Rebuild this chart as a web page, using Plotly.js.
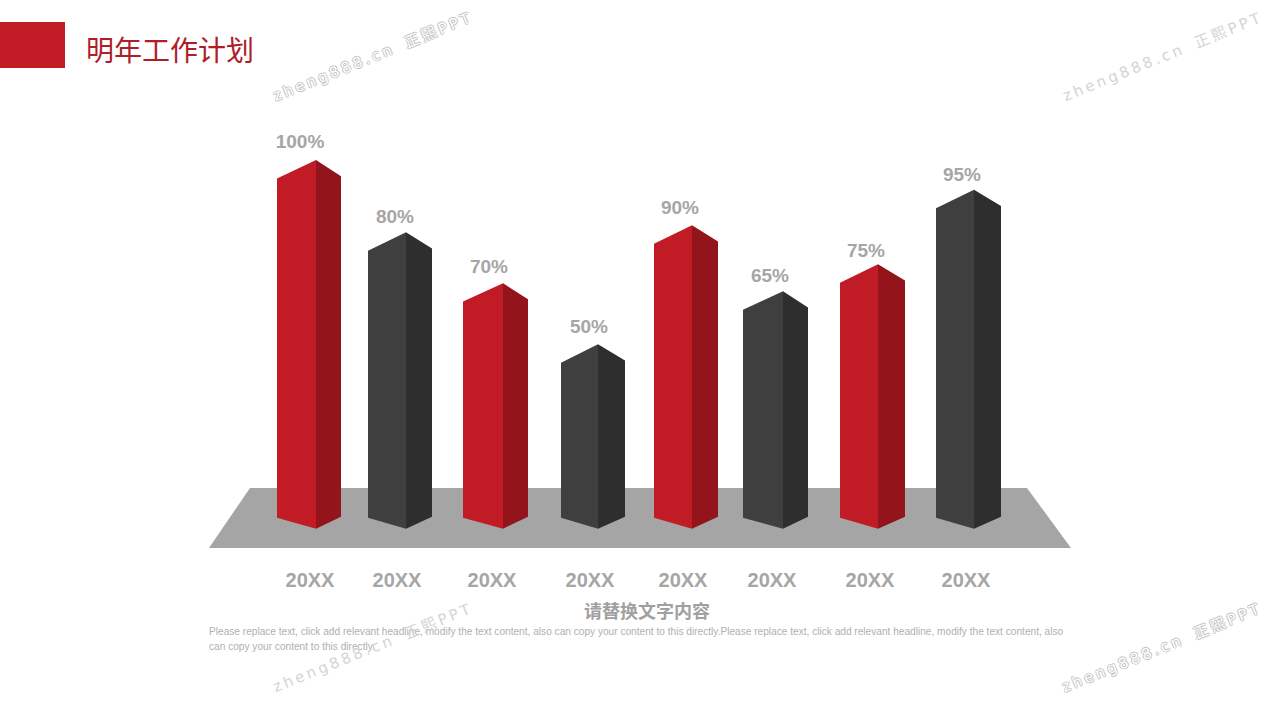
<!DOCTYPE html>
<html>
<head>
<meta charset="utf-8">
<script src="https://cdn.plot.ly/plotly-3.0.1.min.js"></script>
<style>html,body{margin:0;padding:0;background:#fff}#chart{width:1280px;height:720px}</style>
</head>
<body>
<div id="chart"></div>
<script>
// ---- data ----
const years = ['20XX','20XX','20XX','20XX','20XX','20XX','20XX','20XX'];
const valueLabels = ['100%','80%','70%','50%','90%','65%','75%','95%'];
const ridgeHeights = [100, 80.4, 66.6, 50, 82.3, 64.4, 71.7, 91.9];
const barTone = ['red','dark','red','dark','red','dark','red','dark'];

// ---- placement (x-axis units equal screen pixels) ----
const barLeft  = [277, 368, 463, 561, 654, 743, 840, 936];
const barRidge = [316, 406, 503, 598, 692, 783, 878, 974];
const barRight = [341, 432, 528, 625, 718, 808, 905, 1001];
const valueLabelX = [300, 395, 489, 589, 680, 770, 866, 962];
const valueLabelLift = [17, 14, 15, 16, 16, 14, 12, 14];
const yearLabelX = [310, 397, 492, 590, 683, 772, 870, 966];

const W = 1280, H = 720, axisPx = 565, unitPx = 3.687, zeroPx = 528.7;
const shoulderLeft = 5.0, shoulderRight = 4.4, footLeft = 3.0, footRight = 3.25;
const tones = {
  red:  {front:'#c11c25', side:'#93151b'},
  dark: {front:'#3f3f3f', side:'#2e2e2e'}
};
const grey = '#a6a6a6';

const traces = [];
ridgeHeights.forEach((v, i) => {
  const t = tones[barTone[i]];
  traces.push({
    type:'scatter', mode:'lines', fill:'toself', fillcolor:t.front,
    line:{width:0, color:t.front}, hoverinfo:'skip', showlegend:false,
    x:[barLeft[i], barRidge[i], barRidge[i], barLeft[i], barLeft[i]],
    y:[footLeft, 0, v, v - shoulderLeft, footLeft]
  });
  traces.push({
    type:'scatter', mode:'lines', fill:'toself', fillcolor:t.side,
    line:{width:0, color:t.side}, hoverinfo:'skip', showlegend:false,
    x:[barRidge[i], barRight[i], barRight[i], barRidge[i], barRidge[i]],
    y:[0, footRight, v - shoulderRight, v, 0]
  });
});
traces.push({
  type:'scatter', mode:'text', showlegend:false, hoverinfo:'skip', cliponaxis:false,
  x:valueLabelX,
  y:ridgeHeights.map((v, i) => v + valueLabelLift[i] / unitPx),
  text:valueLabels, textposition:'middle center',
  textfont:{family:'"Liberation Sans", Arial, sans-serif', size:19, color:grey, weight:700}
});

// paper coordinates cover the plot area only, which ends at axisPx
const fy = y => 1 - y / axisPx;
const px = (x, y) => (x / W).toFixed(5) + ',' + fy(y).toFixed(5);
const floorPath = 'M' + px(250,488) + 'L' + px(1027,488) + 'L' + px(1071,548) + 'L' + px(209,548) + 'Z';

const shapes = [
  {type:'rect', xref:'paper', yref:'paper', x0:0, x1:65/W, y0:fy(68), y1:fy(22),
   fillcolor:'#c11c25', line:{width:0}, layer:'below'},
  {type:'path', xref:'paper', yref:'paper', path:floorPath,
   fillcolor:'#a5a5a5', line:{width:0}, layer:'below'}
];

function note(text, x, y, font, extra) {
  return Object.assign({
    text, xref:'paper', yref:'paper', x:x/W, y:fy(y),
    xanchor:'center', yanchor:'middle', showarrow:false, font
  }, extra||{});
}
const markText = 'z\u2009h\u2009e\u2009n\u2009g\u20098\u20098\u20098\u2009.\u2009c\u2009n\u2003正\u2009熙\u2009P\u2009P\u2009T';
const markPlain = {family:'"DejaVu Sans", "Noto Sans CJK SC", sans-serif', size:15, color:'#d4d4d4'};
const markHollow = {family:'"DejaVu Sans", "Noto Sans CJK SC", sans-serif', size:15, color:'#ffffff',
  shadow:'1px 0 0 #c4c4c4, -1px 0 0 #c4c4c4, 0 1px 0 #c4c4c4, 0 -1px 0 #c4c4c4'};
const cjk = '"Noto Sans CJK SC", sans-serif';
const bodyFont = {family:'"Liberation Sans", Arial, sans-serif', size:10.15, color:'#b0b0b0'};

const line1 = 'Please replace text, click add relevant headline, modify the text content, also can copy your content to this directly.Please replace text, click add relevant headline, modify the text content, also';
const line2 = 'can copy your content to this directly.';

const annotations = [
  note('明年工作计划', 84, 49, {family:cjk, size:28, color:'#ae2028'}, {xanchor:'left'}),
  note('请替换文字内容', 647, 610, {family:cjk, size:18, color:'#a0a0a0', weight:700}),
  note(line1, 207, 631, bodyFont, {xanchor:'left'}),
  note(line2, 207, 646, bodyFont, {xanchor:'left'}),
  note(markText, 372, 57, markHollow, {textangle:-22}),
  note(markText, 1162, 57, markPlain, {textangle:-22}),
  note(markText, 372, 648, markPlain, {textangle:-22}),
  note(markText, 1161, 648, markHollow, {textangle:-22})
];

const layout = {
  width:W, height:H, paper_bgcolor:'#ffffff', plot_bgcolor:'rgba(0,0,0,0)',
  margin:{l:0, r:0, t:0, b:H-axisPx, pad:0},
  showlegend:false, shapes, annotations,
  xaxis:{range:[0,W], showgrid:false, zeroline:false, showline:false, ticks:'',
    tickmode:'array', tickvals:yearLabelX, ticktext:years, ticklabelstandoff:1,
    tickangle:0, automargin:false,
    tickfont:{family:'"Liberation Sans", Arial, sans-serif', size:20, color:grey, weight:700}},
  yaxis:{visible:false, range:[(zeroPx-axisPx)/unitPx, zeroPx/unitPx], automargin:false}
};
Plotly.newPlot('chart', traces, layout, {displayModeBar:false, staticPlot:true});
</script>
</body>
</html>
